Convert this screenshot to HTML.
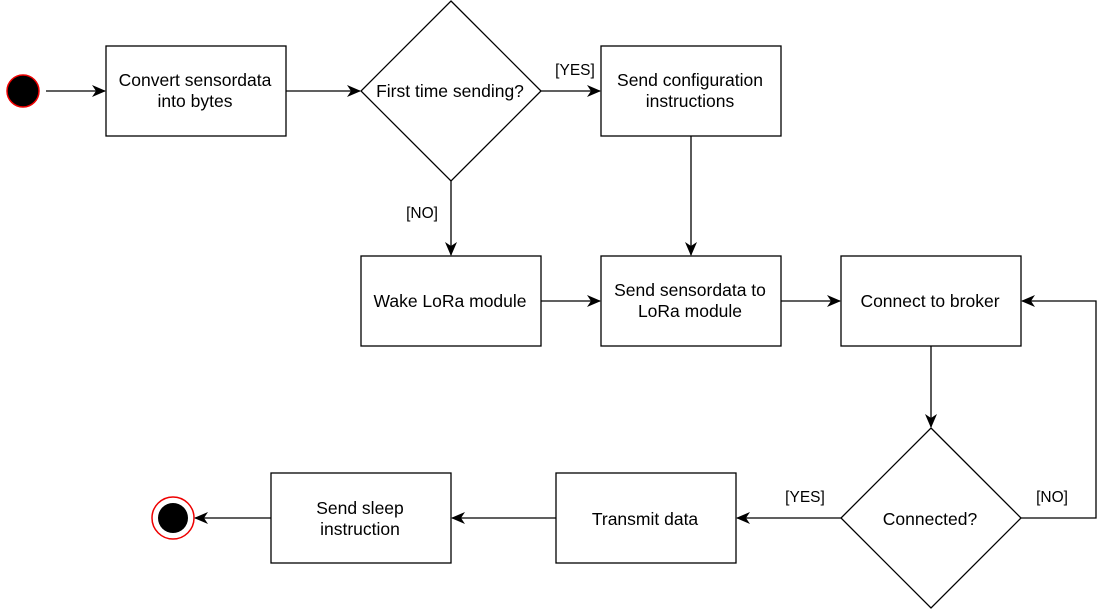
<!DOCTYPE html>
<html><head><meta charset="utf-8"><style>
html,body{margin:0;padding:0;background:#fff;}
svg{display:block;}
text{font-family:"Liberation Sans",Arial,sans-serif;fill:#000;}
</style></head><body>
<svg width="1109" height="609" viewBox="0 0 1109 609" xmlns="http://www.w3.org/2000/svg">
<defs><marker id="a" markerWidth="16" markerHeight="16" refX="13" refY="7" orient="auto" markerUnits="userSpaceOnUse"><path d="M0,1 L14,7 L0,13 L4,7 Z" fill="#000"/></marker></defs>
<g fill="#fff" stroke="#000" stroke-width="1.3">
<rect x="106" y="46" width="180" height="90"/>
<polygon points="451,1 541,91 451,181 361,91"/>
<rect x="601" y="46" width="180" height="90"/>
<rect x="361" y="256" width="180" height="90"/>
<rect x="601" y="256" width="180" height="90"/>
<rect x="841" y="256" width="180" height="90"/>
<polygon points="931,428 1021,518 931,608 841,518"/>
<rect x="556" y="473" width="180" height="90"/>
<rect x="271" y="473" width="180" height="90"/>
</g>
<circle cx="23" cy="91" r="16" fill="#000" stroke="#e00" stroke-width="1.5"/>
<circle cx="173" cy="518" r="21" fill="#fff" stroke="#e00" stroke-width="1.5"/>
<circle cx="173" cy="518" r="15" fill="#000"/>
<g stroke="#000" stroke-width="1.3" fill="none" marker-end="url(#a)">
<line x1="46" y1="91" x2="105" y2="91"/>
<line x1="286" y1="91" x2="360" y2="91"/>
<line x1="541" y1="91" x2="600" y2="91"/>
<line x1="691" y1="136" x2="691" y2="255"/>
<line x1="451" y1="181" x2="451" y2="255"/>
<line x1="541" y1="301" x2="600" y2="301"/>
<line x1="781" y1="301" x2="840" y2="301"/>
<line x1="931" y1="346" x2="931" y2="427"/>
<polyline points="1021,518 1096,518 1096,301 1022,301"/>
<line x1="841" y1="518" x2="737" y2="518"/>
<line x1="556" y1="518" x2="452" y2="518"/>
<line x1="271" y1="518" x2="195" y2="518"/>
</g>
<g font-size="17.5" text-anchor="middle">
<text x="195" y="86">Convert sensordata</text><text x="195" y="107">into bytes</text>
<text x="450" y="97">First time sending?</text>
<text x="690" y="86">Send configuration</text><text x="690" y="107">instructions</text>
<text x="450" y="307">Wake LoRa module</text>
<text x="690" y="296">Send sensordata to</text><text x="690" y="317">LoRa module</text>
<text x="930" y="307">Connect to broker</text>
<text x="930" y="525">Connected?</text>
<text x="645" y="525">Transmit data</text>
<text x="360" y="514">Send sleep</text><text x="360" y="535">instruction</text>
</g>
<g font-size="15.5" text-anchor="middle">
<text x="575" y="75">[YES]</text>
<text x="422" y="218">[NO]</text>
<text x="805" y="502">[YES]</text>
<text x="1052" y="502">[NO]</text>
</g>
</svg>
</body></html>
